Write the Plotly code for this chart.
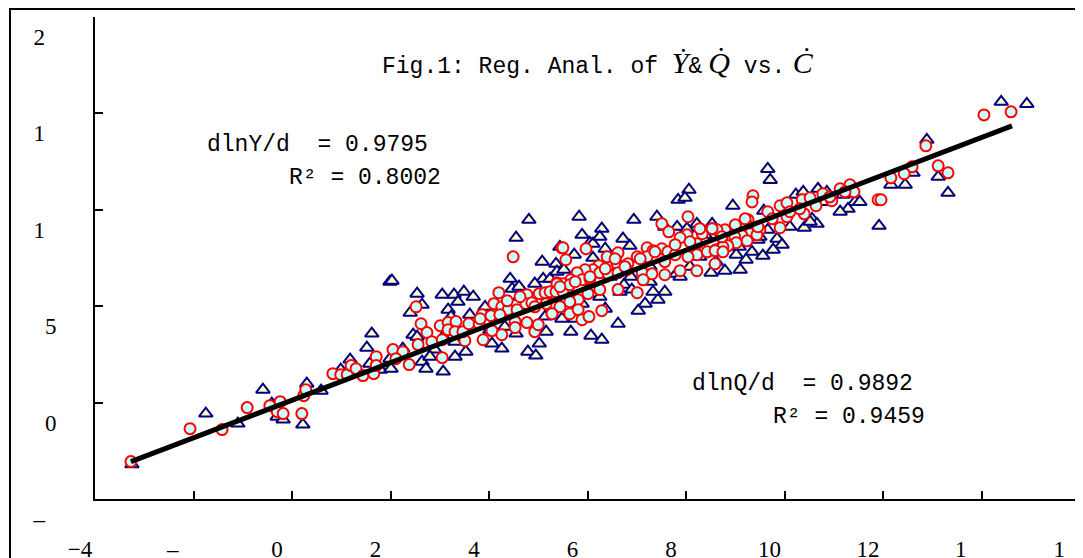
import plotly.graph_objects as go

# ---- data ----
x_tickvals = [-4, -2, 0, 2, 4, 6, 8, 10, 12, 14, 16]
x_ticktext = ["\u22124", "\u2013\u2007", "0", "2", "4", "6", "8", "10", "12", "1\u2007", "1\u2007"]
y_tickvals = [-5, 0, 5, 10, 15, 20]
y_ticktext = ["\u2013\u2007", "0", "5", "1\u2007", "1\u2007", "2\u2007"]

# Y-dot series (triangles)
tri_x = [-3.25, -1.75, -1.10, -0.59, -0.41, -0.30, -0.18, 0.22, 0.30, 0.59, 0.99, 1.18, 1.26, 1.52, 1.62, 1.58, 1.79, 1.99, 1.99,
         4.81, 4.55, 2.03, 2.54, 2.64, 2.40, 3.05, 3.29, 3.49, 3.68, 3.37, 3.17, 3.23, 2.46, 2.54, 3.07, 2.90, 2.64, 2.72, 3.07,
         3.31, 3.53, 2.01, 2.25, 3.92, 4.43, 4.47, 4.61, 4.63, 4.06, 4.26, 4.55, 4.79, 4.95, 5.02, 5.16, 5.08, 5.36, 5.10, 5.24,
         4.93, 5.38, 4.02,
         8.06, 7.84, 7.98, 5.83, 6.94, 7.41, 6.29, 5.89, 6.05, 6.11, 6.72, 6.86, 6.36, 5.73, 6.11, 7.82, 8.22, 8.53, 8.39, 8.02,
         7.57, 5.52, 6.60, 6.76, 6.88, 7.27, 7.80, 8.08, 8.51, 8.61, 7.57, 7.43, 7.33, 7.17, 7.03, 6.62, 6.07, 6.29, 5.66, 5.48,
         5.34, 6.36, 6.74, 6.90, 6.19, 5.89, 5.99, 5.64, 6.46,
         9.66, 9.71, 8.95, 9.58, 10.23, 10.38, 10.68, 10.86, 10.82, 11.19, 11.43, 11.29, 10.56, 10.40, 10.66, 9.66, 9.85, 9.95,
         9.77, 9.56, 9.34, 9.46, 9.08, 9.22, 9.02, 9.10, 8.79, 11.92,
         14.40, 14.92, 12.89, 12.61, 12.16, 12.45, 13.12, 13.32,
         3.61, 4.32, 5.14, 5.75, 6.25, 6.66, 7.27, 7.88, 8.28, 8.69, 9.10, 9.50, 10.11, 10.52, 11.13, 11.53, 2.80, 3.31, 5.44, 6.25]
tri_y = [-3.20, -0.57, -1.09, 0.67, -0.05, -0.73, -0.88, -1.14, 0.98, 0.62, 1.71, 2.23, 1.50, 2.85, 3.58, 2.02, 1.71, 2.28, 6.27,
         9.48, 8.55, 6.32, 5.65, 5.08, 4.66, 5.60, 5.60, 5.75, 5.49, 5.23, 4.82, 4.46, 3.52, 3.42, 3.42, 2.75, 2.12, 1.76, 1.61,
         2.38, 2.64, 1.76, 2.80, 4.97, 6.42, 5.91, 6.01, 5.49, 3.06, 2.80, 3.58, 2.64, 2.44, 3.06, 3.68, 7.31, 7.20, 6.42, 6.42,
         6.17, 6.79, 3.78,
         11.04, 10.52, 10.62, 9.64, 9.48, 9.64, 9.02, 8.70, 8.29, 8.24, 8.50, 8.13, 7.98, 7.67, 7.51, 9.12, 9.27, 9.27, 8.70, 9.02,
         9.12, 6.89, 6.89, 6.94, 6.53, 6.27, 6.68, 7.05, 6.74, 7.31, 5.75, 5.34, 5.75, 5.13, 4.77, 4.09, 3.47, 3.26, 3.68, 4.35,
         5.39, 4.87, 6.11, 5.86, 5.65, 5.13, 6.27, 6.27, 6.53,
         12.12, 11.55, 10.21, 9.95, 10.78, 10.93, 11.09, 10.93, 10.41, 10.78, 10.41, 10.05, 9.53, 9.07, 9.27, 8.96, 8.50, 8.19,
         7.93, 7.62, 7.82, 8.45, 8.08, 7.41, 7.67, 6.89, 6.84, 9.17,
         15.60, 15.49, 13.63, 11.92, 11.30, 11.30, 11.71, 10.88,
         4.56, 3.94, 4.46, 4.35, 5.49, 5.75, 7.05, 6.53, 7.56, 8.08, 8.34, 8.60, 9.12, 9.38, 9.90, 10.41, 2.38, 3.16, 8.08, 8.60]

# Q-dot series (circles)
cir_x = [-3.27, -2.07, -1.42, -0.91, -0.45, -0.24, -0.30, -0.18, 0.20, 0.24, 0.28, 0.83, 0.99, 1.12, 1.20, 1.30, 1.44, 1.66, 1.71, 1.71,
         4.49, 5.48, 2.52, 2.62, 2.05, 2.25, 2.11, 2.38, 2.56, 2.74, 2.84, 3.05, 3.05, 3.01, 3.17, 3.33, 3.17, 3.31, 3.51, 3.47,
         3.59, 3.80, 3.86, 4.04, 4.10, 4.20, 4.26, 3.88, 4.06, 4.26, 4.39, 4.57, 4.53, 4.53, 4.77, 4.93, 5.00, 4.77, 4.75, 4.87,
         5.02, 5.14, 5.16, 5.30, 5.38, 5.28, 4.37,
         8.04, 7.51, 7.65, 5.50, 5.97, 5.56, 8.33, 8.53, 8.02, 7.88, 8.22, 8.43, 8.61, 7.21, 7.33, 7.51, 7.63, 7.78, 8.22, 8.04,
         7.01, 7.21, 6.62, 6.40, 6.82, 6.60, 6.23, 6.11, 5.95, 5.79, 5.66, 5.50, 5.38, 5.24, 5.36, 5.50, 5.64, 5.89, 6.05, 6.25,
         6.42, 6.62, 6.80, 7.11, 7.31, 7.57, 7.88, 8.22, 8.59, 7.01, 7.13, 6.62, 6.25, 6.01, 5.81, 5.64, 5.44, 5.64, 5.81, 5.89,
         6.03, 6.29, 5.28,
         9.36, 9.34, 9.26, 9.22, 9.66, 9.91, 10.05, 10.05, 9.91, 10.36, 10.52, 10.64, 10.78, 10.96, 11.13, 11.33, 11.41, 10.40,
         9.50, 9.30, 9.44, 9.14, 9.24, 8.99, 8.79, 8.63, 8.53, 9.02, 8.85, 8.75, 8.59, 8.75, 11.90,
         14.05, 14.60, 12.87, 12.59, 12.43, 12.16, 13.12, 13.32, 11.96,
         3.82, 4.22, 4.63, 4.93, 5.44, 5.75, 6.05, 6.36, 6.56, 6.76, 7.07, 7.37, 7.57, 7.78, 8.08, 8.28, 8.73, 9.00, 9.20, 9.46,
         9.75, 10.11, 10.31, 10.92, 11.23]
cir_y = [-3.06, -1.35, -1.40, -0.26, -0.16, 0.05, -0.47, -0.57, -0.57, 0.36, 0.67, 1.50, 1.45, 1.45, 1.92, 1.76, 1.40, 1.50, 2.38, 1.92,
         7.56, 8.03, 4.97, 4.09, 2.75, 2.64, 2.28, 1.97, 3.01, 3.63, 3.16, 3.26, 2.33, 3.99, 4.15, 4.20, 3.78, 3.68, 3.21, 3.68,
         4.09, 4.09, 4.56, 4.51, 5.13, 5.70, 4.97, 3.26, 3.73, 3.52, 4.82, 4.82, 4.20, 3.89, 4.15, 3.68, 4.04, 5.60, 5.13, 5.18,
         5.65, 5.70, 5.13, 5.65, 6.22, 4.61, 5.28,
         9.64, 9.27, 8.86, 8.03, 7.98, 7.41, 8.76, 9.02, 8.70, 8.55, 8.24, 7.82, 7.93, 8.03, 7.88, 7.98, 7.82, 7.67, 7.67, 7.56,
         7.56, 7.56, 7.77, 7.56, 7.20, 7.20, 7.10, 6.89, 6.89, 6.74, 6.37, 6.17, 6.17, 5.75, 5.75, 5.75, 6.11, 6.37, 6.42, 6.74,
         6.68, 6.74, 6.89, 6.74, 6.68, 6.63, 6.84, 6.84, 7.20, 5.70, 6.37, 5.86, 5.86, 5.65, 5.34, 5.23, 4.97, 4.61, 4.82, 4.30,
         4.46, 4.77, 4.61,
         10.73, 10.41, 9.48, 9.27, 9.90, 10.21, 10.36, 9.64, 9.07, 10.52, 10.62, 10.21, 10.83, 10.47, 11.09, 11.30, 10.93, 9.79,
         8.96, 8.76, 8.70, 8.65, 8.39, 8.60, 8.96, 8.96, 9.02, 8.29, 8.13, 8.08, 7.88, 7.82, 10.52,
         14.92, 15.08, 13.32, 12.23, 11.87, 11.66, 12.28, 11.92, 10.52,
         4.35, 4.56, 5.49, 4.97, 6.01, 6.27, 6.53, 6.94, 7.46, 7.05, 7.46, 7.82, 7.31, 8.19, 8.34, 9.02, 8.60, 9.22, 9.53, 9.12,
         9.53, 9.90, 10.05, 10.67, 10.93]

# fitted regression line end points
fit_x = [-3.27, 14.62]
fit_y = [-3.06, 14.35]

ital = "<span style='font-family:\"Liberation Serif\";font-size:30px'><i>{}</i></span>"
title_text = ("Fig.1: Reg. Anal. of " + ital.format("\u1E8E") + "&amp;" + ital.format("\u2009Q\u0307")
              + " vs." + ital.format(" \u010A"))
note_y1 = "dlnY/d  = 0.9795"
note_y2 = "R\u00b2 = 0.8002"
note_q1 = "dlnQ/d  = 0.9892"
note_q2 = "R\u00b2 = 0.9459"

fig = go.Figure()
fig.add_trace(go.Scatter(x=tri_x, y=tri_y, mode="markers",
                         marker=dict(symbol="triangle-up", size=12, color="#FFFFCC",
                                     line=dict(color="#000080", width=2)),
                         showlegend=False))
fig.add_trace(go.Scatter(x=cir_x, y=cir_y, mode="markers",
                         marker=dict(symbol="circle", size=11, color="#CCFFFF",
                                     line=dict(color="#FF0000", width=2)),
                         showlegend=False))
fig.add_trace(go.Scatter(x=fit_x, y=fit_y, mode="lines",
                         line=dict(color="black", width=5), showlegend=False))

tickfont = dict(family="Liberation Serif", size=23, color="black")
fig.update_xaxes(range=[-4, 16], tickvals=x_tickvals, ticktext=x_ticktext,
                 ticks="inside", ticklen=8, tickwidth=2, tickcolor="black",
                 showline=True, linewidth=2, linecolor="black", mirror=False,
                 showgrid=False, zeroline=False, tickfont=tickfont,
                 ticklabelshift=-15, ticklabelstandoff=28, automargin=False)
fig.update_yaxes(range=[-5, 20], tickvals=y_tickvals, ticktext=y_ticktext,
                 ticks="inside", ticklen=8, tickwidth=2, tickcolor="black",
                 showline=True, linewidth=2, linecolor="black", mirror=False,
                 showgrid=False, zeroline=False, tickfont=tickfont,
                 ticklabelshift=20, ticklabelstandoff=32, automargin=False)

mono = dict(family="Liberation Mono", size=23, color="black")
annots = [
    dict(x=0.2894, y=0.905, text=title_text),
    dict(x=0.112, y=0.734, text=note_y1),
    dict(x=0.195, y=0.666, text=note_y2),
    dict(x=0.604, y=0.239, text=note_q1),
    dict(x=0.686, y=0.170, text=note_q2),
]
for a in annots:
    fig.add_annotation(x=a["x"], y=a["y"], xref="paper", yref="paper", text=a["text"],
                       showarrow=False, xanchor="left", yanchor="middle", font=mono)

# outer frame
fig.add_shape(type="rect", xref="paper", yref="paper", x0=-0.0863, x1=1.05, y0=-0.3, y1=1.0166,
              line=dict(color="black", width=2), fillcolor="rgba(0,0,0,0)", layer="above")

fig.update_layout(width=1083, height=558, autosize=False,
                  margin=dict(l=87, r=11, t=9, b=67),
                  paper_bgcolor="white", plot_bgcolor="white")

fig.write_html("out.html")
